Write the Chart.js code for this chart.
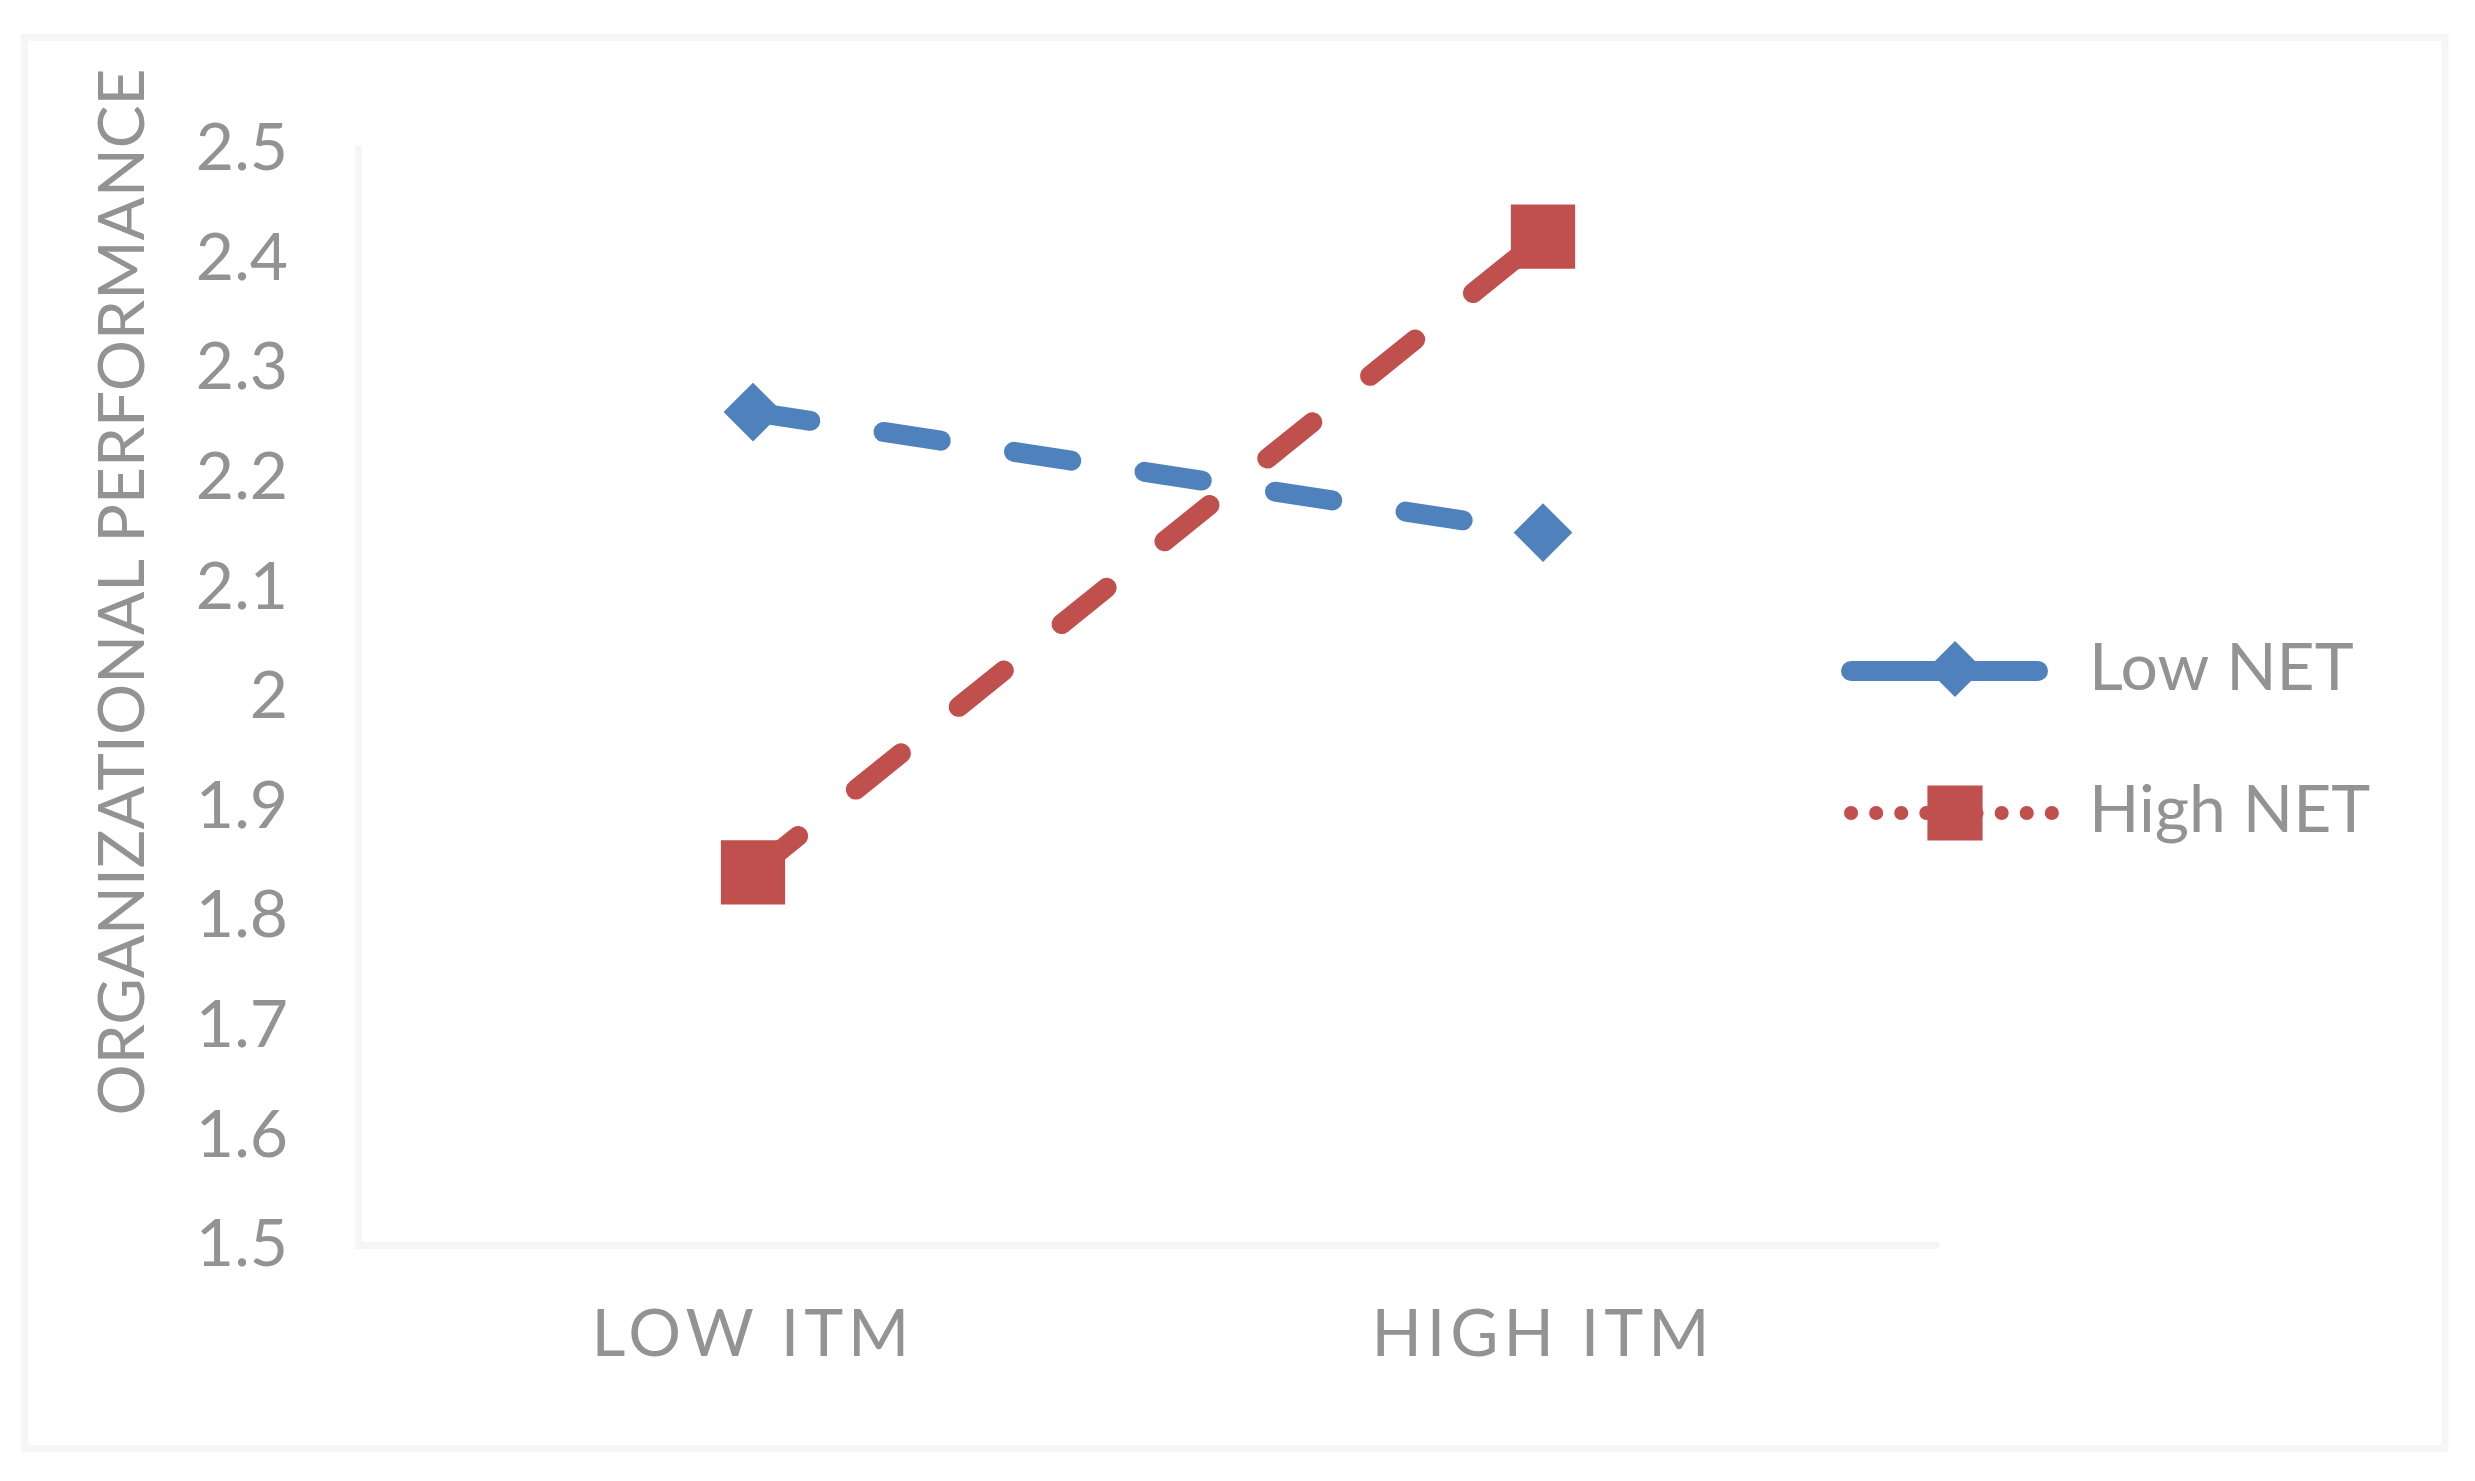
<!DOCTYPE html>
<html>
<head>
<meta charset="utf-8">
<title>Organizational performance by ITM and NET</title>
<script src="https://cdn.jsdelivr.net/npm/chart.js@4.4.0/dist/chart.umd.min.js"></script>
<style>
  html, body { margin: 0; padding: 0; background: #ffffff; }
  #wrap { width: 2475px; height: 1481px; }
</style>
</head>
<body>
<div id="wrap"><canvas id="perfChart"></canvas></div>
<script>
// categories on the x axis
const itmLevels = ['LOW ITM', 'HIGH ITM'];
// series names and values (organizational performance)
const seriesNames = ['Low NET', 'High NET'];
const lowNetValues = [2.26, 2.15];
const highNetValues = [1.84, 2.42];
// y axis ticks
const yTickValues = [1.5, 1.6, 1.7, 1.8, 1.9, 2, 2.1, 2.2, 2.3, 2.4, 2.5];
const yTickLabels = ['1.5', '1.6', '1.7', '1.8', '1.9', '2', '2.1', '2.2', '2.3', '2.4', '2.5'];
const yTitle = 'ORGANIZATIONAL PERFORMANCE';

const blue = '#4f81bd';
const red = '#c0504d';
const textGray = '#939393';
const lineGray = '#f6f6f6';
const fontName = 'Lato, Carlito, Calibri, sans-serif';

//white background + light outer frame
const framePlugin = {
    id: 'frame',
    beforeDraw(chart) {
        const ctx = chart.ctx;
        ctx.save();
        ctx.fillStyle = '#ffffff';
        ctx.fillRect(0, 0, chart.width, chart.height);
        ctx.strokeStyle = lineGray;
        ctx.lineWidth = 7;
        ctx.strokeRect(24.5, 37.5, 2420.5, 1411);
        ctx.restore();
    },
    //wide letter spacing for the category labels (drawn after datasets, ticks z=1)
    afterDatasetsDraw(chart) {
        chart.ctx.letterSpacing = '5px';
    },
    afterDraw(chart) {
        chart.ctx.letterSpacing = '0px';
    }
};

//y title and legend drawn where the original has them
const legendPlugin = {
    id: 'sideLegend',
    afterDraw(chart) {
        const ctx = chart.ctx;
        ctx.save();
        ctx.letterSpacing = '0px';
        ctx.fillStyle = textGray;
        ctx.font = '64px ' + fontName;
        ctx.textAlign = 'center';
        ctx.textBaseline = 'middle';
        ctx.translate(123, 592);
        ctx.rotate(-Math.PI / 2);
        ctx.fillText(yTitle, 0, 0);
        ctx.restore();

        const markX = 1955;
        const rows = [
            { y: 671, color: blue, dotted: false, style: 'rectRot', r: 28 },
            { y: 813, color: red, dotted: true, style: 'rect', r: 39 }
        ];
        ctx.save();
        ctx.letterSpacing = '0px';
        for (let i = 0; i < rows.length; i++) {
            const row = rows[i];
            ctx.strokeStyle = row.color;
            ctx.fillStyle = row.color;
            ctx.lineCap = 'round';
            ctx.beginPath();
            if (row.dotted) {
                ctx.lineWidth = 14;
                ctx.setLineDash([0.1, 25]);
                ctx.moveTo(1851, row.y);
                ctx.lineTo(2053, row.y);
            } else {
                ctx.lineWidth = 20;
                ctx.setLineDash([]);
                ctx.moveTo(1851, row.y);
                ctx.lineTo(2038, row.y);
            }
            ctx.stroke();
            ctx.setLineDash([]);
            ctx.beginPath();
            if (row.style === 'rectRot') {
                ctx.moveTo(markX - row.r, row.y - 2);
                ctx.lineTo(markX, row.y - 2 - row.r);
                ctx.lineTo(markX + row.r, row.y - 2);
                ctx.lineTo(markX, row.y - 2 + row.r);
            } else {
                const h = row.r * Math.SQRT1_2;
                ctx.rect(markX - h, row.y - h, 2 * h, 2 * h);
            }
            ctx.closePath();
            ctx.fill();
            ctx.fillStyle = textGray;
            ctx.font = '66px ' + fontName;
            ctx.textAlign = 'left';
            ctx.textBaseline = 'middle';
            ctx.fillText(seriesNames[i], 2089, row.y - 2);
        }
        ctx.restore();
    }
};

const ctx = document.getElementById('perfChart');
const chart = new Chart(ctx, {
    type: 'line',
    data: {
        labels: itmLevels,
        datasets: [{
            label: seriesNames[0],
            data: lowNetValues,
            borderColor: blue,
            backgroundColor: blue,
            borderWidth: 20,
            borderDash: [58, 74],
            borderCapStyle: 'round',
            pointStyle: 'rectRot',
            pointRadius: 28,
            pointBorderWidth: 2,
            pointBackgroundColor: blue,
            pointBorderColor: blue,
            fill: false
        }, {
            label: seriesNames[1],
            data: highNetValues,
            borderColor: red,
            backgroundColor: red,
            borderWidth: 20,
            borderDash: [58, 74],
            borderCapStyle: 'round',
            pointStyle: 'rect',
            pointRadius: 44,
            pointBorderWidth: 2,
            pointBackgroundColor: red,
            pointBorderColor: red,
            fill: false
        }]
    },
    plugins: [framePlugin, legendPlugin],
    options: {
        responsive: true,
        maintainAspectRatio: false,
        animation: false,
        events: [],
        layout: { padding: { top: 149, right: 537, bottom: 0, left: 0 } },
        plugins: {
            legend: { display: false },
            tooltip: { enabled: false }
        },
        scales: {
            x: {
                offset: true,
                grid: { display: false },
                border: { display: true, color: lineGray, width: 7 },
                ticks: {
                    z: 1,
                    color: textGray,
                    padding: 42,
                    font: { family: fontName, size: 66 }
                },
                afterFit(scale) {
                    scale.height = 236;
                }
            },
            y: {
                min: 1.5,
                max: 2.5,
                grid: { display: false },
                border: { display: true, color: lineGray, width: 7 },
                afterBuildTicks(scale) {
                    scale.ticks = yTickValues.map(v => ({ value: v }));
                },
                ticks: {
                    color: textGray,
                    padding: 62,
                    font: { family: fontName, size: 66 },
                    callback: function (value) {
                        return yTickLabels[yTickValues.indexOf(value)];
                    }
                },
                afterFit(scale) {
                    scale.width = 358;
                }
            }
        }
    }
});
</script>
</body>
</html>
